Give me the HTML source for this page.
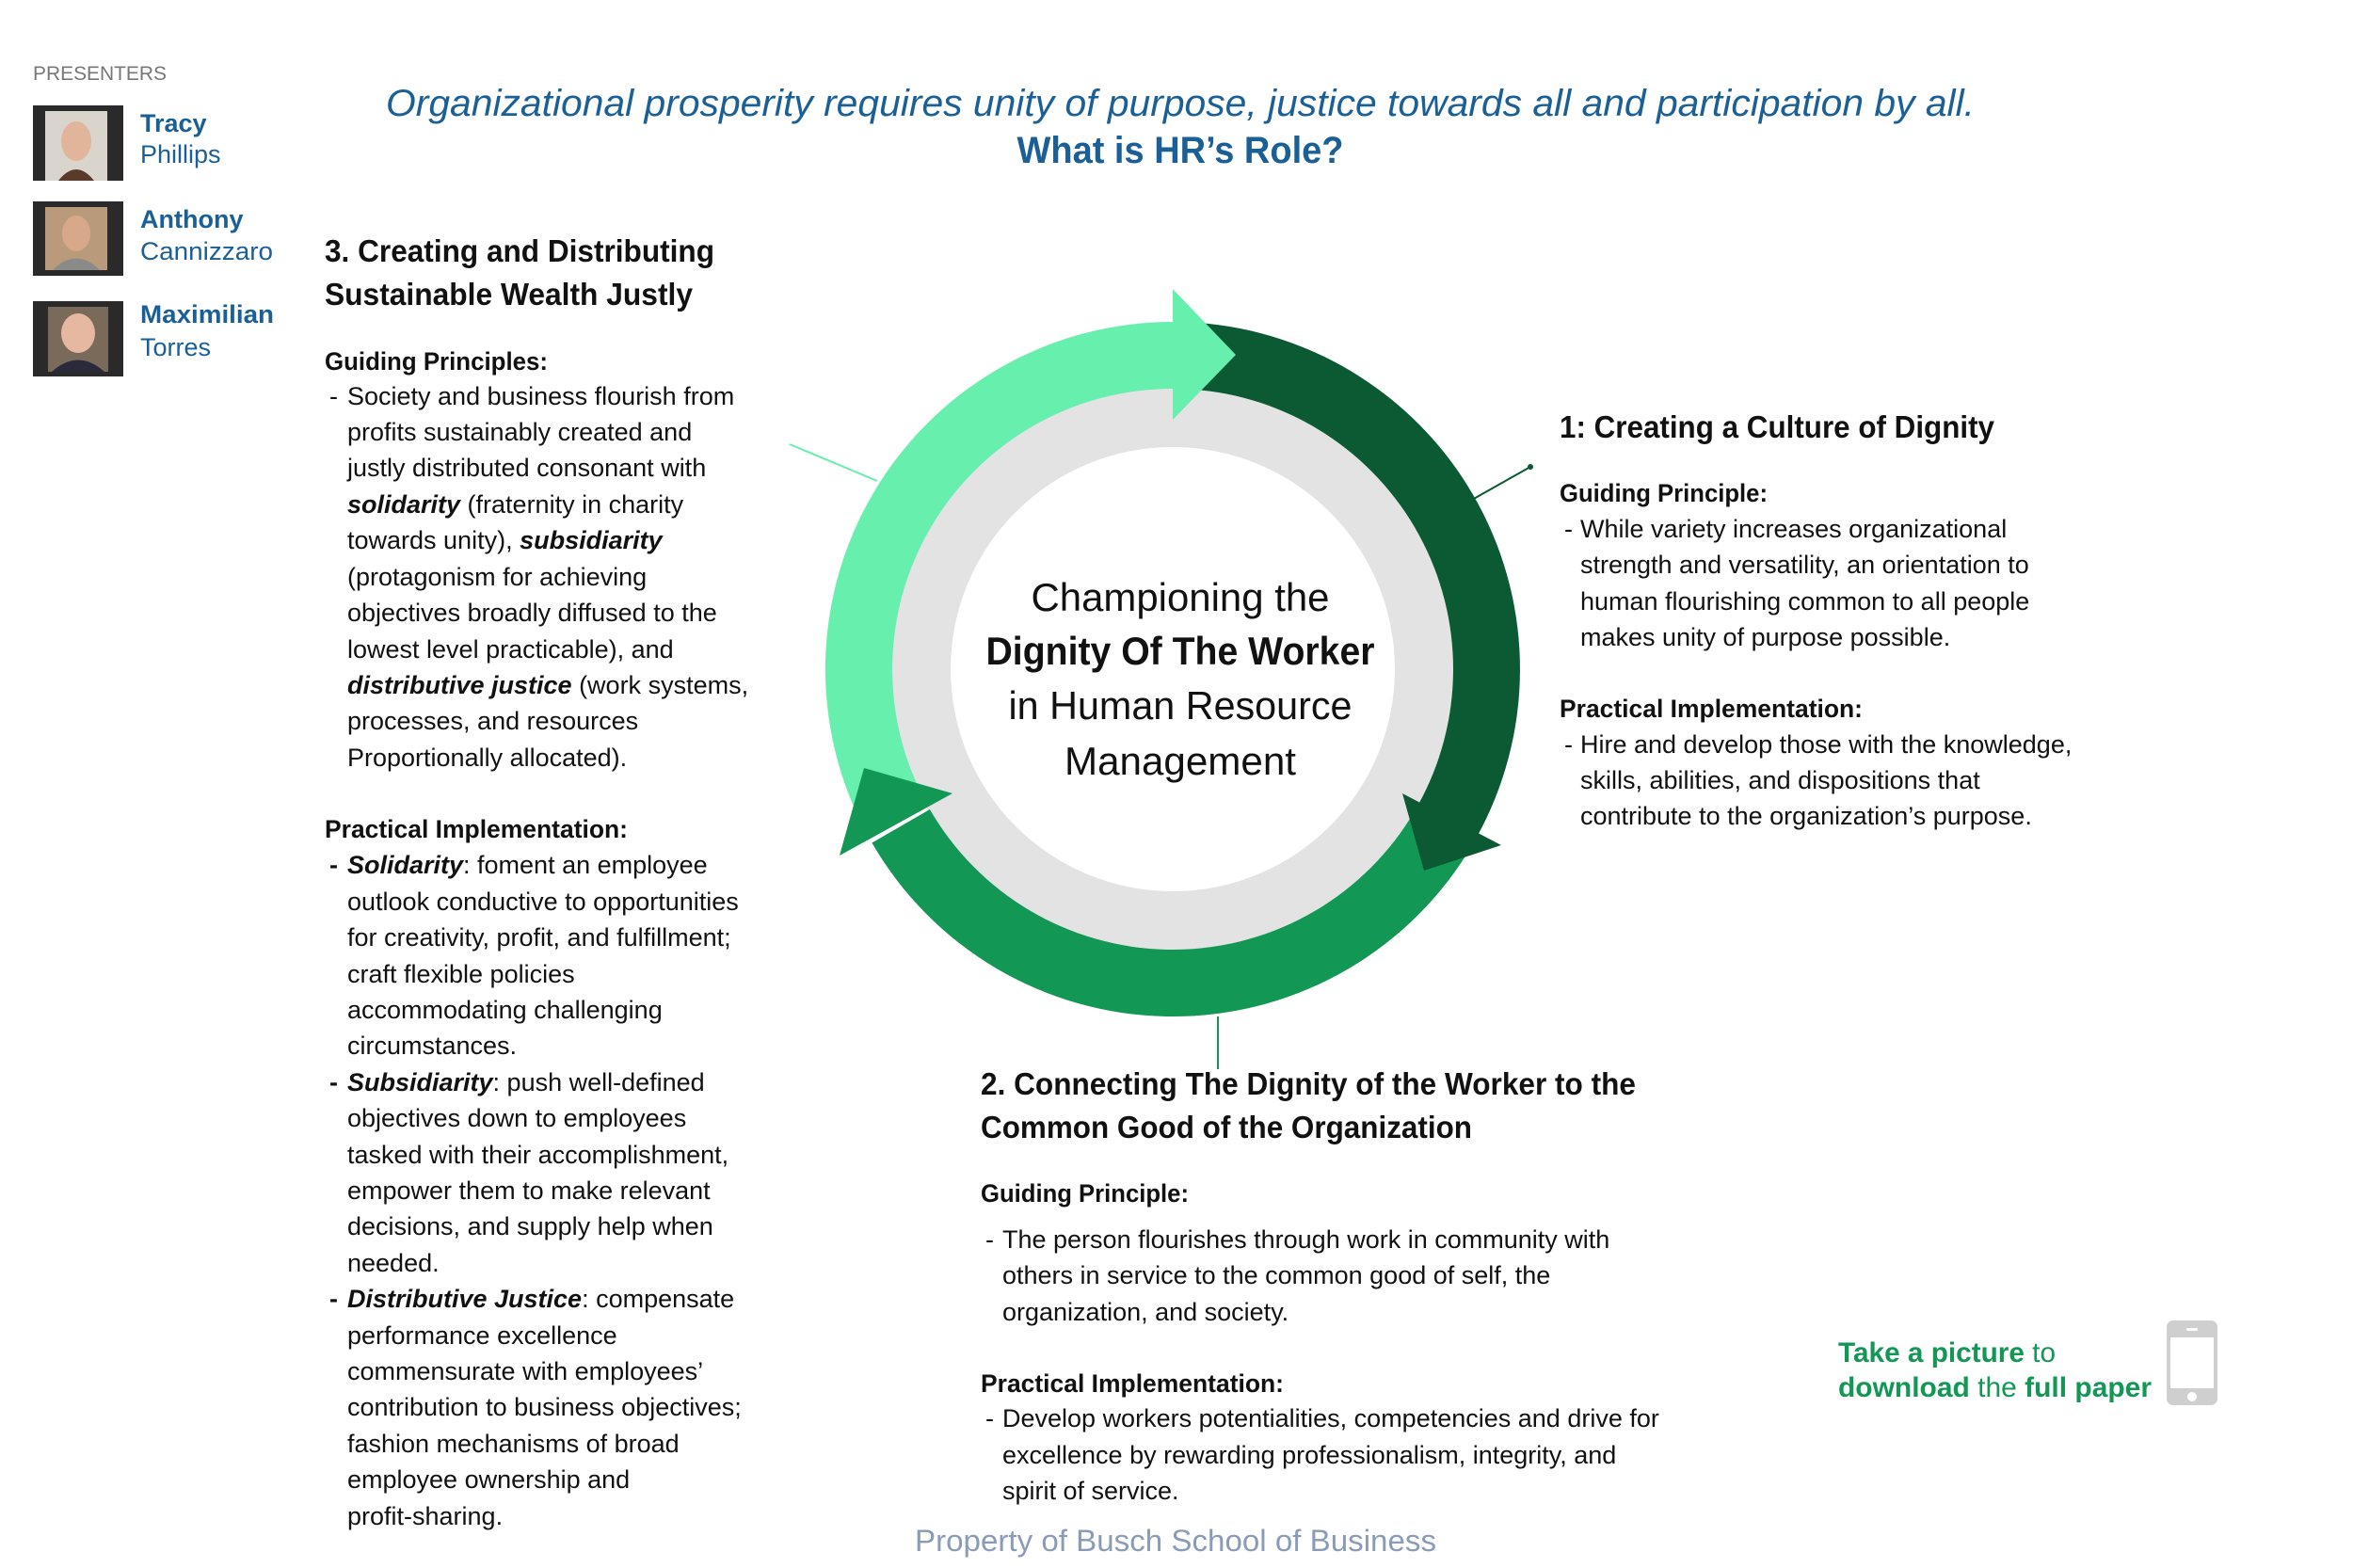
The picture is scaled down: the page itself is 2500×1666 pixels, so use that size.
<!DOCTYPE html>
<html><head><meta charset="utf-8"><style>
html,body{margin:0;padding:0;background:#fff;}
svg{display:block;}
text{font-family:"Liberation Sans",sans-serif;}
.b{font-size:27px;fill:#111;}
.h{font-size:27px;font-weight:bold;fill:#111;}
.t{font-size:33px;font-weight:bold;fill:#111;}
.n{font-size:27px;fill:#1a5f96;}
</style></head><body>
<svg width="2500" height="1666" viewBox="0 0 2500 1666" xmlns="http://www.w3.org/2000/svg">
<rect width="2500" height="1666" fill="#fff"/>
<g transform="translate(-4,-3)">
<!-- Header -->
<text x="1258" y="126" text-anchor="middle" font-size="40" font-style="italic" fill="#1a5f96" textLength="1688" lengthAdjust="spacingAndGlyphs">Organizational prosperity requires unity of purpose, justice towards all and participation by all.</text>
<text x="1258" y="176" text-anchor="middle" font-size="40" font-weight="bold" fill="#1a5f96" textLength="347" lengthAdjust="spacingAndGlyphs">What is HR’s Role?</text>

<!-- Presenters -->
<text x="39" y="88" font-size="21" fill="#777" textLength="142" lengthAdjust="spacingAndGlyphs">PRESENTERS</text>
<g transform="translate(4,3)">
<rect x="35" y="112" width="96" height="80" fill="#2a2a2a"/>
<rect x="48" y="118" width="66" height="74" fill="#d9d4cc"/>
<ellipse cx="81" cy="150" rx="16" ry="21" fill="#e0b59a"/>
<path d="M62 192 Q81 168 100 192 Z" fill="#5a3a2a"/>
<rect x="35" y="214" width="96" height="79" fill="#2a2a2a"/>
<rect x="48" y="220" width="66" height="67" fill="#b99b7c"/>
<ellipse cx="81" cy="248" rx="15" ry="19" fill="#d8a88a"/>
<path d="M56 287 Q81 262 106 287 Z" fill="#8a8a88"/>
<rect x="35" y="320" width="96" height="80" fill="#2a2a2a"/>
<rect x="51" y="326" width="64" height="69" fill="#7a6a5a"/>
<ellipse cx="83" cy="354" rx="18" ry="21" fill="#e6b8a2"/>
<path d="M55 395 Q83 370 111 395 Z" fill="#2a2a3a"/>
</g>
<text x="153" y="143" class="n" font-weight="bold">Tracy</text>
<text x="153" y="176" class="n">Phillips</text>
<text x="153" y="245" class="n" font-weight="bold">Anthony</text>
<text x="153" y="279" class="n" textLength="141" lengthAdjust="spacingAndGlyphs">Cannizzaro</text>
<text x="153" y="346" class="n" font-weight="bold" textLength="142" lengthAdjust="spacingAndGlyphs">Maximilian</text>
<text x="153" y="381" class="n">Torres</text>

<!-- Connectors -->
<line x1="843" y1="475" x2="936" y2="514" stroke="#66efad" stroke-width="2"/>
<line x1="1568" y1="534" x2="1630" y2="499" stroke="#0b5a33" stroke-width="2"/>
<circle cx="1630" cy="499" r="3" fill="#0b5a33"/>
<line x1="1298" y1="1083" x2="1298" y2="1139" stroke="#129755" stroke-width="2"/>

<!-- Circle -->
<circle cx="1250" cy="714" r="300" fill="#e3e3e3"/>
<circle cx="1250" cy="714" r="236" fill="#fff"/>
<path d="M1562.9,909.6 A369,369 0 0 1 930.4,898.5 L991.9,863 A298,298 0 0 0 1502.7,871.9 Z" fill="#129755"/>
<path d="M918.3,875.8 A369,369 0 0 1 1250,345 L1250,416 A298,298 0 0 0 982.2,844.6 Z" fill="#66efad"/>
<path d="M1275.8,345.9 A369,369 0 0 1 1572.7,892.9 L1510.6,858.5 A298,298 0 0 0 1270.8,416.7 Z" fill="#0b5a33"/>
<polygon points="1494,846 1599,901 1517,928" fill="#0b5a33"/>
<polygon points="1016,846 896,912 922,819" fill="#129755"/>
<polygon points="1250,310 1250,449 1317,380" fill="#66efad"/>

<text x="1258" y="652" text-anchor="middle" font-size="42" fill="#111" textLength="317" lengthAdjust="spacingAndGlyphs">Championing the</text>
<text x="1258" y="709" text-anchor="middle" font-size="42" font-weight="bold" fill="#111" textLength="413" lengthAdjust="spacingAndGlyphs">Dignity Of The Worker</text>
<text x="1258" y="767" text-anchor="middle" font-size="42" fill="#111" textLength="365" lengthAdjust="spacingAndGlyphs">in Human Resource</text>
<text x="1258" y="826" text-anchor="middle" font-size="42" fill="#111" textLength="246" lengthAdjust="spacingAndGlyphs">Management</text>

<!-- Left column -->
<text x="349" y="281" class="t" textLength="414" lengthAdjust="spacingAndGlyphs">3. Creating and Distributing</text>
<text x="349" y="327" class="t" textLength="391" lengthAdjust="spacingAndGlyphs">Sustainable Wealth Justly</text>
<text x="349" y="396" class="h" textLength="237" lengthAdjust="spacingAndGlyphs">Guiding Principles:</text>
<text x="354" y="433" class="b">-</text>
<text x="373" y="433" class="b">Society and business flourish from</text>
<text x="373" y="471" class="b">profits sustainably created and</text>
<text x="373" y="509" class="b">justly distributed consonant with</text>
<text x="373" y="548" class="b"><tspan font-weight="bold" font-style="italic">solidarity</tspan> (fraternity in charity</text>
<text x="373" y="586" class="b">towards unity), <tspan font-weight="bold" font-style="italic">subsidiarity</tspan></text>
<text x="373" y="625" class="b">(protagonism for achieving</text>
<text x="373" y="663" class="b">objectives broadly diffused to the</text>
<text x="373" y="702" class="b">lowest level practicable), and</text>
<text x="373" y="740" class="b"><tspan font-weight="bold" font-style="italic">distributive justice</tspan> (work systems,</text>
<text x="373" y="778" class="b">processes, and resources</text>
<text x="373" y="817" class="b">Proportionally allocated).</text>
<text x="349" y="893" class="h" textLength="322" lengthAdjust="spacingAndGlyphs">Practical Implementation:</text>
<text x="354" y="931" class="b" font-weight="bold">-</text>
<text x="373" y="931" class="b"><tspan font-weight="bold" font-style="italic">Solidarity</tspan>: foment an employee</text>
<text x="373" y="970" class="b">outlook conductive to opportunities</text>
<text x="373" y="1008" class="b">for creativity, profit, and fulfillment;</text>
<text x="373" y="1047" class="b">craft flexible policies</text>
<text x="373" y="1085" class="b">accommodating challenging</text>
<text x="373" y="1123" class="b">circumstances.</text>
<text x="354" y="1162" class="b" font-weight="bold">-</text>
<text x="373" y="1162" class="b"><tspan font-weight="bold" font-style="italic">Subsidiarity</tspan>: push well-defined</text>
<text x="373" y="1200" class="b">objectives down to employees</text>
<text x="373" y="1239" class="b">tasked with their accomplishment,</text>
<text x="373" y="1277" class="b">empower them to make relevant</text>
<text x="373" y="1315" class="b">decisions, and supply help when</text>
<text x="373" y="1354" class="b">needed.</text>
<text x="354" y="1392" class="b" font-weight="bold">-</text>
<text x="373" y="1392" class="b"><tspan font-weight="bold" font-style="italic">Distributive Justice</tspan>: compensate</text>
<text x="373" y="1431" class="b">performance excellence</text>
<text x="373" y="1469" class="b">commensurate with employees’</text>
<text x="373" y="1507" class="b">contribution to business objectives;</text>
<text x="373" y="1546" class="b">fashion mechanisms of broad</text>
<text x="373" y="1584" class="b">employee ownership and</text>
<text x="373" y="1623" class="b">profit-sharing.</text>

<!-- Right column -->
<text x="1661" y="468" class="t" textLength="462" lengthAdjust="spacingAndGlyphs">1: Creating a Culture of Dignity</text>
<text x="1661" y="536" class="h" textLength="221" lengthAdjust="spacingAndGlyphs">Guiding Principle:</text>
<text x="1666" y="574" class="b">-</text>
<text x="1683" y="574" class="b">While variety increases organizational</text>
<text x="1683" y="612" class="b">strength and versatility, an orientation to</text>
<text x="1683" y="651" class="b">human flourishing common to all people</text>
<text x="1683" y="689" class="b">makes unity of purpose possible.</text>
<text x="1661" y="765" class="h" textLength="322" lengthAdjust="spacingAndGlyphs">Practical Implementation:</text>
<text x="1666" y="803" class="b">-</text>
<text x="1683" y="803" class="b">Hire and develop those with the knowledge,</text>
<text x="1683" y="841" class="b">skills, abilities, and dispositions that</text>
<text x="1683" y="879" class="b">contribute to the organization’s purpose.</text>

<!-- Bottom column -->
<text x="1046" y="1166" class="t" textLength="696" lengthAdjust="spacingAndGlyphs">2. Connecting The Dignity of the Worker to the</text>
<text x="1046" y="1212" class="t" textLength="522" lengthAdjust="spacingAndGlyphs">Common Good of the Organization</text>
<text x="1046" y="1280" class="h" textLength="221" lengthAdjust="spacingAndGlyphs">Guiding Principle:</text>
<text x="1051" y="1329" class="b">-</text>
<text x="1069" y="1329" class="b">The person flourishes through work in community with</text>
<text x="1069" y="1367" class="b">others in service to the common good of self, the</text>
<text x="1069" y="1406" class="b">organization, and society.</text>
<text x="1046" y="1482" class="h" textLength="322" lengthAdjust="spacingAndGlyphs">Practical Implementation:</text>
<text x="1051" y="1519" class="b">-</text>
<text x="1069" y="1519" class="b">Develop workers potentialities, competencies and drive for</text>
<text x="1069" y="1558" class="b">excellence by rewarding professionalism, integrity, and</text>
<text x="1069" y="1596" class="b">spirit of service.</text>

<!-- Take a picture -->
<text x="1957" y="1450" font-size="30" fill="#129755" textLength="231" lengthAdjust="spacingAndGlyphs"><tspan font-weight="bold">Take a picture</tspan> to</text>
<text x="1957" y="1487" font-size="30" fill="#129755" textLength="333" lengthAdjust="spacingAndGlyphs"><tspan font-weight="bold">download</tspan> the <tspan font-weight="bold">full paper</tspan></text>
<g transform="translate(4,3)">
<rect x="2302" y="1403" width="54" height="90" rx="7" fill="#cfcfcf"/>
<rect x="2306" y="1421" width="46" height="54" fill="#fff"/>
<rect x="2323" y="1411" width="12" height="3" rx="1.5" fill="#fff"/>
<circle cx="2329" cy="1484" r="5" fill="#fff"/>
</g>

<!-- Footer -->
<text x="1253" y="1651" text-anchor="middle" font-size="32" fill="#8a9bb8" textLength="554" lengthAdjust="spacingAndGlyphs">Property of Busch School of Business</text>
</g>
</svg>
</body></html>
